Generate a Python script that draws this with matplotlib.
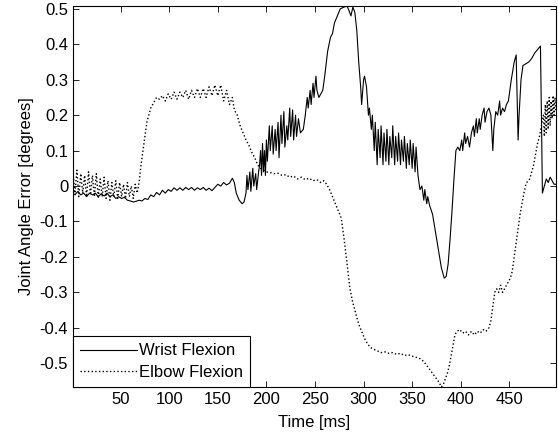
import matplotlib
matplotlib.use("Agg")
import matplotlib.pyplot as plt

plt.rcParams['font.family'] = ['Liberation Sans', 'DejaVu Sans']
plt.rcParams['font.size'] = 12

# Wrist Flexion (solid)
wrist_t = [1, 3, 6, 9, 12, 15, 18, 21, 24, 27, 30, 33, 36, 39, 42, 45, 48, 51, 54, 57,
           60, 63, 66, 69, 72, 75, 78, 81, 84, 87, 90, 93, 96, 99, 102, 105, 108, 111, 114, 117,
           120, 123, 126, 129, 132, 135, 138, 141, 144, 147, 150, 153, 156, 159, 162, 165, 167, 169, 172, 175,
           177, 179, 180, 181, 183, 184, 186, 187, 189, 190, 192, 193, 194, 195, 196, 197, 198, 199, 200, 201,
           203, 204, 206, 207, 209, 210, 212, 213, 215, 216, 218, 219, 221, 222, 224, 225, 227, 228, 230, 231,
           233, 235, 238, 240, 242, 243, 245, 246, 248, 249, 251, 252, 254, 256, 258, 260, 263, 266, 268, 270,
           273, 276, 280, 283, 285, 287, 289, 291, 293, 295, 297, 298, 300, 301, 303, 305, 306, 308, 309, 311,
           312, 314, 315, 317, 318, 320, 321, 323, 324, 326, 327, 329, 330, 332, 333, 335, 336, 338, 339, 341,
           342, 344, 345, 347, 348, 350, 351, 353, 354, 356, 358, 360, 362, 363, 365, 366, 368, 371, 374, 377,
           380, 383, 385, 387, 389, 391, 393, 395, 397, 399, 401, 402, 404, 405, 407, 409, 411, 413, 414, 416,
           417, 419, 420, 422, 424, 425, 427, 429, 431, 433, 434, 436, 438, 440, 441, 443, 445, 447, 449, 452,
           455, 457, 459, 460, 462, 464, 467, 470, 473, 476, 479, 482, 483, 484, 486, 488, 490, 492, 494, 496,
           498]
wrist_v = [-0.02, -0.025, -0.015, -0.025, -0.02, -0.03, -0.02, -0.025, -0.02, -0.03, -0.022, -0.028, -0.02, -0.03, -0.025, -0.035, -0.03, -0.035, -0.032, -0.04,
           -0.042, -0.045, -0.043, -0.04, -0.042, -0.035, -0.038, -0.025, -0.03, -0.018, -0.025, -0.012, -0.02, -0.01, -0.015, -0.005, -0.012, -0.005, -0.012, -0.004,
           -0.01, -0.004, -0.012, -0.005, -0.01, -0.004, -0.012, -0.006, -0.013, -0.004, 0.005, 0.0, 0.01, 0.003, 0.008, 0.022, 0.01, -0.02, -0.04, -0.05,
           -0.045, -0.02, 0.03, -0.01, 0.04, -0.015, 0.05, 0.0, 0.035, -0.01, 0.04, 0.06, 0.10, 0.03, 0.12, 0.04, 0.10, 0.03, 0.13, 0.07,
           0.17, 0.10, 0.17, 0.09, 0.16, 0.10, 0.18, 0.08, 0.20, 0.12, 0.21, 0.11, 0.17, 0.13, 0.22, 0.14, 0.215, 0.13, 0.20, 0.14,
           0.19, 0.15, 0.16, 0.20, 0.25, 0.22, 0.27, 0.23, 0.29, 0.25, 0.31, 0.27, 0.25, 0.26, 0.27, 0.31, 0.38, 0.42, 0.43, 0.46,
           0.48, 0.50, 0.505, 0.508, 0.495, 0.48, 0.505, 0.49, 0.44, 0.35, 0.28, 0.23, 0.30, 0.31, 0.28, 0.20, 0.22, 0.16, 0.20, 0.10,
           0.18, 0.06, 0.16, 0.08, 0.17, 0.06, 0.15, 0.07, 0.16, 0.06, 0.14, 0.08, 0.17, 0.06, 0.14, 0.07, 0.15, 0.06, 0.13, 0.07,
           0.14, 0.05, 0.12, 0.06, 0.13, 0.05, 0.12, 0.04, 0.11, 0.03, -0.01, 0.0, -0.04, -0.01, -0.05, -0.03, -0.055, -0.08, -0.13, -0.18,
           -0.23, -0.26, -0.255, -0.22, -0.15, -0.07, 0.02, 0.10, 0.11, 0.10, 0.13, 0.10, 0.15, 0.12, 0.14, 0.11, 0.15, 0.17, 0.14, 0.19,
           0.15, 0.19, 0.16, 0.20, 0.22, 0.18, 0.21, 0.22, 0.20, 0.10, 0.16, 0.21, 0.20, 0.24, 0.20, 0.22, 0.21, 0.23, 0.24, 0.30,
           0.35, 0.37, 0.13, 0.20, 0.30, 0.34, 0.345, 0.35, 0.36, 0.375, 0.385, 0.395, 0.20, -0.02, 0.0, 0.02, 0.01, 0.025, 0.015, 0.005,
           0.005]

# Elbow Flexion (dotted)
elbow_t = [1, 3, 5, 7, 9, 11, 13, 15, 17, 19, 21, 23, 25, 27, 29, 31, 33, 35, 37, 39,
           41, 43, 45, 47, 49, 51, 53, 55, 57, 59, 61, 63, 65, 67, 69, 71, 73, 75, 77, 79,
           81, 84, 87, 90, 93, 96, 99, 102, 105, 108, 111, 114, 117, 120, 123, 126, 129, 132, 135, 138,
           141, 144, 147, 150, 153, 156, 159, 162, 165, 167, 170, 173, 176, 179, 182, 185, 188, 191, 194, 197,
           200, 204, 208, 212, 216, 220, 224, 228, 232, 236, 240, 244, 248, 252, 256, 259, 262, 265, 268, 271,
           274, 277, 280, 283, 286, 289, 292, 295, 298, 301, 304, 307, 310, 314, 318, 322, 326, 330, 334, 338,
           342, 346, 350, 354, 358, 362, 366, 370, 374, 378, 380, 382, 384, 386, 388, 390, 392, 394, 396, 399,
           402, 405, 408, 411, 414, 417, 420, 423, 426, 429, 431, 433, 435, 437, 439, 441, 443, 445, 447, 449,
           451, 453, 455, 457, 459, 461, 463, 465, 467, 469, 471, 473, 475, 477, 479, 481, 483, 485, 486, 487,
           488, 489, 490, 491, 492, 493, 494, 495, 496, 497, 498]
elbow_v = [0.04, -0.02, 0.045, -0.03, 0.035, -0.02, 0.03, -0.03, 0.04, -0.025, 0.03, -0.03, 0.035, -0.035, 0.02, -0.03, 0.025, -0.035, 0.015, -0.04,
           0.01, -0.03, 0.015, -0.035, 0.01, -0.03, 0.005, -0.035, 0.01, -0.03, 0.0, -0.035, 0.005, -0.02, 0.01, 0.06, 0.10, 0.14, 0.18, 0.20,
           0.22, 0.235, 0.25, 0.245, 0.255, 0.24, 0.26, 0.245, 0.265, 0.245, 0.265, 0.25, 0.27, 0.245, 0.27, 0.25, 0.275, 0.25, 0.275, 0.25,
           0.28, 0.255, 0.285, 0.255, 0.285, 0.24, 0.27, 0.23, 0.25, 0.215, 0.20, 0.17, 0.15, 0.13, 0.115, 0.095, 0.08, 0.06, 0.05, 0.045,
           0.04, 0.038, 0.035, 0.036, 0.03, 0.032, 0.025, 0.028, 0.02, 0.025, 0.018, 0.022, 0.015, 0.018, 0.01, 0.015, 0.005, -0.01, -0.03, -0.05,
           -0.07, -0.09, -0.15, -0.22, -0.29, -0.33, -0.36, -0.39, -0.41, -0.43, -0.445, -0.455, -0.46, -0.465, -0.47, -0.468, -0.472, -0.47, -0.475, -0.472,
           -0.478, -0.476, -0.48, -0.483, -0.487, -0.495, -0.51, -0.525, -0.54, -0.555, -0.567, -0.56, -0.545, -0.53, -0.51, -0.48, -0.45, -0.42, -0.41, -0.405,
           -0.415, -0.41, -0.42, -0.41, -0.42, -0.41, -0.415, -0.405, -0.41, -0.40, -0.38, -0.34, -0.30, -0.29, -0.30, -0.28, -0.30, -0.29, -0.28, -0.27,
           -0.26, -0.24, -0.20, -0.16, -0.12, -0.08, -0.05, -0.02, 0.005, 0.015, 0.02, 0.04, 0.06, 0.09, 0.12, 0.14, 0.17, 0.20, 0.14, 0.23,
           0.15, 0.24, 0.16, 0.25, 0.17, 0.24, 0.19, 0.255, 0.20, 0.25, 0.21]

x_ticks = [50, 100, 150, 200, 250, 300, 350, 400, 450]
y_ticks = [-0.5, -0.4, -0.3, -0.2, -0.1, 0, 0.1, 0.2, 0.3, 0.4, 0.5]
y_tick_labels = ['-0.5', '-0.4', '-0.3', '-0.2', '-0.1', '0', '0.1', '0.2', '0.3', '0.4', '0.5']

fig = plt.figure(figsize=(5.58, 4.33), dpi=100)
ax = fig.add_axes([73 / 558, 1 - 387 / 433, (556 - 73) / 558, (387 - 6) / 433])

ax.plot(wrist_t, wrist_v, color='black', lw=0.8, ls='-', label='Wrist Flexion')
ax.plot(elbow_t, elbow_v, color='black', lw=1.0, ls=':', label='Elbow Flexion')

ax.set_xlim(1, 498)
ax.set_ylim(-0.567, 0.508)
ax.set_xticks(x_ticks)
ax.set_yticks(y_ticks)
ax.set_yticklabels(y_tick_labels)
ax.tick_params(direction='in', length=4, top=True, right=True, labelsize=12, width=0.6, pad=3.5)
for s in ax.spines.values():
    s.set_linewidth(0.8)

ax.set_xlabel('Time [ms]', fontsize=12, labelpad=6)
ax.set_ylabel('Joint Angle Error [degrees]', fontsize=12, labelpad=4)

leg = ax.legend(loc='lower left', borderaxespad=0, fancybox=False, framealpha=1,
                edgecolor='black', handlelength=3.4, handletextpad=0.12,
                labelspacing=0.4, borderpad=0.42, fontsize=12)
leg.get_frame().set_linewidth(0.8)

fig.savefig('out.png', dpi=100)
